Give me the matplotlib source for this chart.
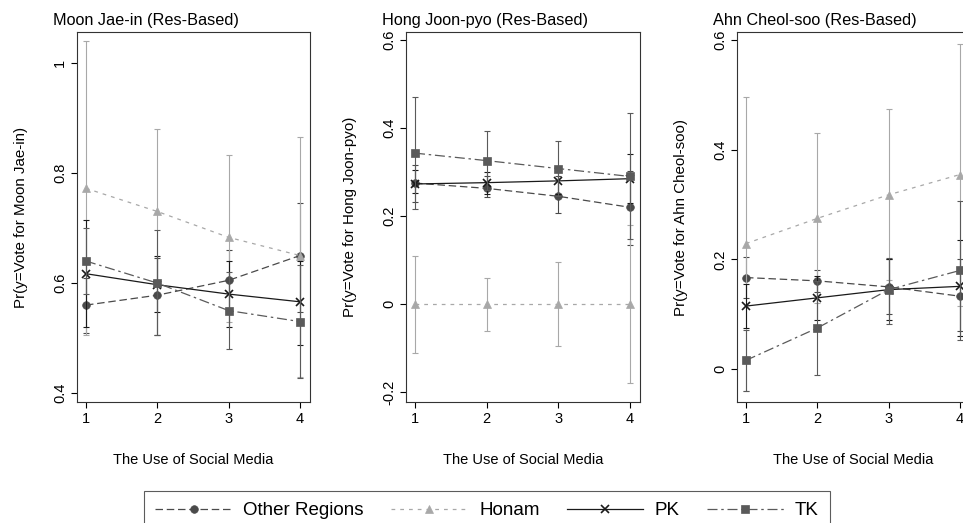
import matplotlib
matplotlib.use("Agg")
from matplotlib import pyplot as plt
from matplotlib.lines import Line2D

# data (order: Other Regions, Honam, PK, TK)
regions = ["Other Regions", "Honam", "PK", "TK"]
x = [1, 2, 3, 4]

moon_mean = [[0.560, 0.578, 0.605, 0.650],
             [0.772, 0.730, 0.683, 0.650],
             [0.617, 0.597, 0.580, 0.566],
             [0.640, 0.600, 0.550, 0.530]]
moon_lo = [[0.509, 0.505, 0.548, 0.547],
           [0.505, 0.505, 0.530, 0.430],
           [0.520, 0.547, 0.520, 0.487],
           [0.580, 0.505, 0.480, 0.427]]
moon_hi = [[0.610, 0.645, 0.660, 0.746],
           [1.040, 0.880, 0.833, 0.866],
           [0.715, 0.650, 0.640, 0.640],
           [0.700, 0.696, 0.620, 0.633]]

hong_mean = [[0.275, 0.263, 0.245, 0.220],
             [0.000, 0.000, 0.000, 0.000],
             [0.273, 0.276, 0.280, 0.285],
             [0.343, 0.326, 0.308, 0.290]]
hong_lo = [[0.232, 0.244, 0.206, 0.134],
           [-0.110, -0.060, -0.095, -0.180],
           [0.252, 0.250, 0.250, 0.230],
           [0.216, 0.260, 0.245, 0.147]]
hong_hi = [[0.316, 0.290, 0.290, 0.303],
           [0.110, 0.060, 0.095, 0.180],
           [0.305, 0.300, 0.310, 0.340],
           [0.471, 0.394, 0.371, 0.435]]

ahn_mean = [[0.167, 0.161, 0.150, 0.133],
            [0.229, 0.275, 0.318, 0.355],
            [0.115, 0.130, 0.145, 0.151],
            [0.016, 0.075, 0.145, 0.180]]
ahn_lo = [[0.130, 0.140, 0.100, 0.069],
          [-0.040, 0.120, 0.162, 0.116],
          [0.075, 0.090, 0.090, 0.060],
          [-0.040, -0.011, 0.083, 0.053]]
ahn_hi = [[0.205, 0.180, 0.200, 0.200],
          [0.497, 0.430, 0.474, 0.594],
          [0.155, 0.170, 0.200, 0.235],
          [0.072, 0.161, 0.203, 0.307]]

titles = ["Moon Jae-in (Res-Based)", "Hong Joon-pyo (Res-Based)", "Ahn Cheol-soo (Res-Based)"]
ylabels = ["Pr(y=Vote for Moon Jae-in)", "Pr(y=Vote for Hong Joon-pyo)", "Pr(y=Vote for Ahn Cheol-soo)"]
yticks = [[0.4, 0.6, 0.8, 1.0], [-0.2, 0.0, 0.2, 0.4, 0.6], [0.0, 0.2, 0.4, 0.6]]
yticklabels = [["0.4", "0.6", "0.8", "1"], ["-0.2", "0", "0.2", "0.4", "0.6"], ["0", "0.2", "0.4", "0.6"]]
ylims = [(0.384, 1.056), (-0.222, 0.618), (-0.060, 0.615)]

colors = ["#4a4a4a", "#a8a8a8", "#1a1a1a", "#5a5a5a"]
markers = ["o", "^", "x", "s"]
styles = [(0, (6, 3)), (0, (3, 4)), "-", (0, (8, 3, 2, 3))]

plt.rcParams["font.family"] = "Liberation Sans"
W, H = 963, 523
fig = plt.figure(figsize = (W / 100, H / 100), dpi = 100)

# axes frames in pixels (left, right)
frames = [(77, 310), (406, 640), (737, 970)]
top, bottom = 32, 402
panels = [(moon_mean, moon_lo, moon_hi), (hong_mean, hong_lo, hong_hi), (ahn_mean, ahn_lo, ahn_hi)]

for k, (mean, lo, hi) in enumerate(panels):
	l, r = frames[k]
	ax = fig.add_axes([l / W, 1 - bottom / H, (r - l) / W, (bottom - top) / H])
	for i in range(4):
		yerr = [[m - a for m, a in zip(mean[i], lo[i])], [b - m for m, b in zip(mean[i], hi[i])]]
		ax.errorbar(x, mean[i], yerr = yerr, fmt = "none", ecolor = colors[i],
			elinewidth = 0.8, capsize = 2, capthick = 0.8, linestyle = ":")
		ax.plot(x, mean[i], color = colors[i], linestyle = styles[i], linewidth = 0.9,
			marker = markers[i], markersize = 5.5,
			markeredgewidth = 1.2 if markers[i] == "x" else 0.5)
	ax.set_xlim(0.874, 4.14)
	ax.set_ylim(*ylims[k])
	ax.set_xticks(x)
	ax.set_yticks(yticks[k])
	ax.set_yticklabels(yticklabels[k], rotation = 90, va = "center")
	ax.tick_params(direction = "out", length = 4, width = 0.8, labelsize = 10.5, pad = 3)
	for s in ax.spines.values():
		s.set_linewidth(0.8)
		s.set_color("#333333")
	ax.set_xlabel("The Use of Social Media", fontsize = 10.5, labelpad = 20)
	ax.set_ylabel(ylabels[k], fontsize = 10.9, labelpad = 18)
	fig.text((l - 24) / W, 1 - 20 / H, titles[k], fontsize = 11.7, ha = "left", va = "center")

handles = [Line2D([], [], color = colors[i], linestyle = styles[i], linewidth = 0.9,
	marker = markers[i], markersize = 5.5, markeredgewidth = 1.2 if markers[i] == "x" else 0.5)
	for i in range(4)]
leg = fig.legend(handles, regions, loc = "upper left", ncol = 4,
	bbox_to_anchor = (144 / W, 1 - 491 / H - 0.05, (830 - 144) / W, 0.05), mode = "expand",
	fontsize = 13.5, handlelength = 4.1, handletextpad = 0.6, columnspacing = 1.6,
	frameon = True, fancybox = False, edgecolor = "#333333", borderpad = 0.6, borderaxespad = 0)
leg.get_frame().set_linewidth(0.8)

plt.savefig("out.png", dpi = 100)
plt.close()
